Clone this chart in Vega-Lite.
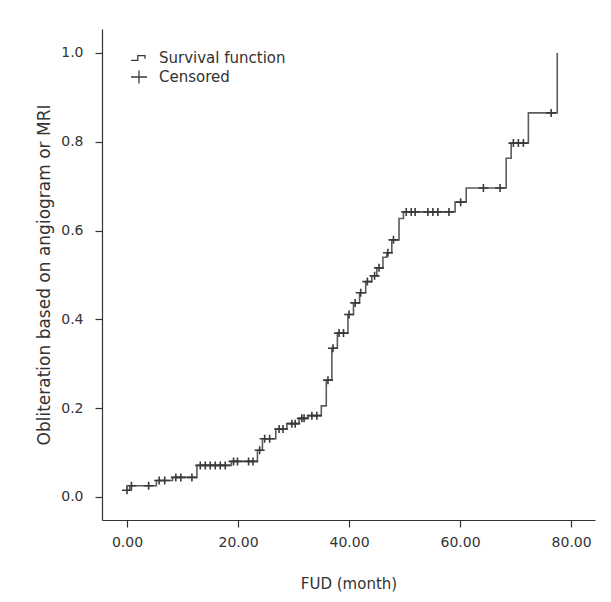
{
  "$schema": "https://vega.github.io/schema/vega-lite/v6.json",
  "width": 493,
  "height": 491,
  "autosize": "none",
  "padding": {"left": 102, "top": 29, "right": 16, "bottom": 82},
  "background": "white",
  "config": {
    "view": {"stroke": null},
    "font": "DejaVu Sans",
    "axis": {
      "grid": false,
      "domainColor": "#333333",
      "domainWidth": 1.2,
      "tickColor": "#333333",
      "tickWidth": 1.2,
      "tickSize": 7,
      "labelColor": "#333333",
      "labelFontSize": 14,
      "titleColor": "#333333",
      "titleFontSize": 15,
      "titleFontWeight": "normal"
    }
  },
  "datasets": {
    "steps": [
      {"month": 0, "value": 0.015},
      {"month": 0.5, "value": 0.025},
      {"month": 5.3, "value": 0.037},
      {"month": 8.2, "value": 0.044},
      {"month": 12.6, "value": 0.071},
      {"month": 18.8, "value": 0.08},
      {"month": 23.5, "value": 0.105},
      {"month": 24.4, "value": 0.131},
      {"month": 26.8, "value": 0.153},
      {"month": 28.8, "value": 0.165},
      {"month": 31.0, "value": 0.177},
      {"month": 32.6, "value": 0.183},
      {"month": 35.0, "value": 0.205},
      {"month": 35.9, "value": 0.263},
      {"month": 36.9, "value": 0.335},
      {"month": 37.9, "value": 0.369},
      {"month": 39.8, "value": 0.411},
      {"month": 40.8, "value": 0.437},
      {"month": 41.9, "value": 0.46},
      {"month": 43.0, "value": 0.485},
      {"month": 44.1, "value": 0.498},
      {"month": 45.0, "value": 0.516},
      {"month": 46.1, "value": 0.54},
      {"month": 46.8, "value": 0.55},
      {"month": 47.7, "value": 0.579},
      {"month": 49.0, "value": 0.627},
      {"month": 49.8, "value": 0.642},
      {"month": 59.1, "value": 0.664},
      {"month": 61.1, "value": 0.696},
      {"month": 68.3, "value": 0.763},
      {"month": 69.2, "value": 0.797},
      {"month": 72.3, "value": 0.865},
      {"month": 77.5, "value": 1.0}
    ],
    "censored": [
      {"month": 0.0, "value": 0.015, "type": "Censored"},
      {"month": 0.8, "value": 0.025, "type": "Censored"},
      {"month": 3.9, "value": 0.025, "type": "Censored"},
      {"month": 5.8, "value": 0.037, "type": "Censored"},
      {"month": 6.8, "value": 0.037, "type": "Censored"},
      {"month": 8.8, "value": 0.044, "type": "Censored"},
      {"month": 9.7, "value": 0.044, "type": "Censored"},
      {"month": 11.7, "value": 0.044, "type": "Censored"},
      {"month": 13.2, "value": 0.071, "type": "Censored"},
      {"month": 14.1, "value": 0.071, "type": "Censored"},
      {"month": 15.0, "value": 0.071, "type": "Censored"},
      {"month": 15.9, "value": 0.071, "type": "Censored"},
      {"month": 16.8, "value": 0.071, "type": "Censored"},
      {"month": 17.7, "value": 0.071, "type": "Censored"},
      {"month": 19.2, "value": 0.08, "type": "Censored"},
      {"month": 19.9, "value": 0.08, "type": "Censored"},
      {"month": 21.9, "value": 0.08, "type": "Censored"},
      {"month": 22.7, "value": 0.08, "type": "Censored"},
      {"month": 23.9, "value": 0.105, "type": "Censored"},
      {"month": 24.8, "value": 0.131, "type": "Censored"},
      {"month": 25.7, "value": 0.131, "type": "Censored"},
      {"month": 27.4, "value": 0.153, "type": "Censored"},
      {"month": 28.1, "value": 0.153, "type": "Censored"},
      {"month": 29.7, "value": 0.165, "type": "Censored"},
      {"month": 30.3, "value": 0.165, "type": "Censored"},
      {"month": 31.5, "value": 0.177, "type": "Censored"},
      {"month": 31.9, "value": 0.177, "type": "Censored"},
      {"month": 33.3, "value": 0.183, "type": "Censored"},
      {"month": 34.2, "value": 0.183, "type": "Censored"},
      {"month": 36.2, "value": 0.263, "type": "Censored"},
      {"month": 37.1, "value": 0.335, "type": "Censored"},
      {"month": 38.2, "value": 0.369, "type": "Censored"},
      {"month": 39.0, "value": 0.369, "type": "Censored"},
      {"month": 40.0, "value": 0.411, "type": "Censored"},
      {"month": 41.1, "value": 0.437, "type": "Censored"},
      {"month": 42.1, "value": 0.46, "type": "Censored"},
      {"month": 43.3, "value": 0.485, "type": "Censored"},
      {"month": 44.6, "value": 0.498, "type": "Censored"},
      {"month": 45.4, "value": 0.516, "type": "Censored"},
      {"month": 47.0, "value": 0.55, "type": "Censored"},
      {"month": 48.0, "value": 0.579, "type": "Censored"},
      {"month": 50.3, "value": 0.642, "type": "Censored"},
      {"month": 51.2, "value": 0.642, "type": "Censored"},
      {"month": 51.9, "value": 0.642, "type": "Censored"},
      {"month": 54.2, "value": 0.642, "type": "Censored"},
      {"month": 55.1, "value": 0.642, "type": "Censored"},
      {"month": 56.0, "value": 0.642, "type": "Censored"},
      {"month": 58.0, "value": 0.642, "type": "Censored"},
      {"month": 60.1, "value": 0.664, "type": "Censored"},
      {"month": 64.2, "value": 0.696, "type": "Censored"},
      {"month": 67.2, "value": 0.696, "type": "Censored"},
      {"month": 69.6, "value": 0.797, "type": "Censored"},
      {"month": 70.5, "value": 0.797, "type": "Censored"},
      {"month": 71.4, "value": 0.797, "type": "Censored"},
      {"month": 76.4, "value": 0.865, "type": "Censored"}
    ]
  },
  "encoding": {
    "x": {
      "field": "month",
      "type": "quantitative",
      "scale": {"domain": [-4.5, 84.3], "nice": false, "zero": false},
      "axis": {
        "values": [0, 20, 40, 60, 80],
        "format": ".2f",
        "labelPadding": 8,
        "title": "FUD (month)",
        "titlePadding": 27
      }
    },
    "y": {
      "field": "value",
      "type": "quantitative",
      "scale": {"domain": [-0.052, 1.054], "nice": false, "zero": false},
      "axis": {
        "values": [0, 0.2, 0.4, 0.6, 0.8, 1.0],
        "format": ".1f",
        "labelPadding": 12,
        "title": "Obliteration based on angiogram or MRI",
        "titleFontSize": 17,
        "titlePadding": 7
      }
    }
  },
  "layer": [
    {
      "data": {"name": "steps"},
      "mark": {"type": "line", "interpolate": "step-after", "color": "#5c5c5c", "strokeWidth": 1.6}
    },
    {
      "data": {"name": "censored"},
      "mark": {"type": "point", "filled": false, "size": 100, "strokeWidth": 1.6, "opacity": 1, "color": "#3a3a3a"},
      "encoding": {
        "shape": {
          "field": "type",
          "type": "nominal",
          "scale": {
            "domain": ["Survival function", "Censored"],
            "range": ["M-1,0.3H-0.15V-0.3H0.75V0.1", "M-1,0H1M0,-0.8V0.8"]
          },
          "legend": {
            "title": null,
            "orient": "none",
            "legendX": 28,
            "legendY": 20,
            "padding": 0,
            "symbolSize": 256,
            "symbolStrokeWidth": 1.3,
            "symbolStrokeColor": "#3a3a3a",
            "symbolFillColor": "transparent",
            "labelFontSize": 15,
            "labelColor": "#333333",
            "labelOffset": 11,
            "rowPadding": 2
          }
        }
      }
    }
  ]
}
